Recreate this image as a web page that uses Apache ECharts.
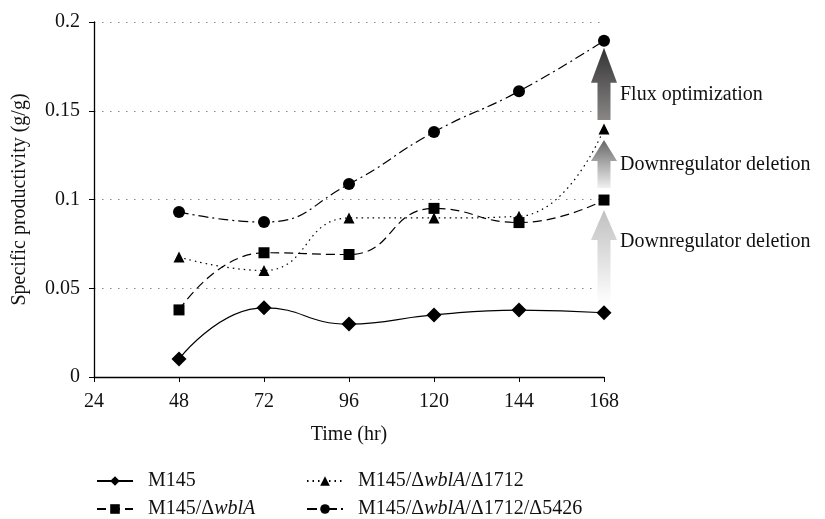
<!DOCTYPE html>
<html>
<head>
<meta charset="utf-8">
<script src="https://cdn.jsdelivr.net/npm/echarts@6/dist/echarts.min.js"></script>
<style>
html, body { margin: 0; padding: 0; background: #fff; }
#chart { width: 825px; height: 519px; }
</style>
</head>
<body>
<div id="chart"></div>
<script>
var hours = [48, 72, 96, 120, 144, 168];
var m145 = [0.0101, 0.0390, 0.0298, 0.0350, 0.0377, 0.0362];
var wblA = [0.0378, 0.0700, 0.0690, 0.0950, 0.0870, 0.0997];
var d1712 = [0.0676, 0.0600, 0.0896, 0.0896, 0.0905, 0.1397];
var d5426 = [0.0930, 0.0873, 0.1087, 0.1380, 0.1610, 0.1895];
var names = ['M145', 'M145/ΔwblA', 'M145/ΔwblA/Δ1712', 'M145/ΔwblA/Δ1712/Δ5426'];
var arrowLabels = ['Downregulator deletion', 'Downregulator deletion', 'Flux optimization'];

var font = 'Liberation Serif';

function pairs(vals) {
	return hours.map(function (h, i) { return [h, vals[i]]; });
}

function makeSeries(name, vals, symbol, size, dash) {
	return {
		name: name,
		type: 'line',
		data: pairs(vals),
		smooth: 0.5,
		symbol: symbol,
		symbolSize: size,
		itemStyle: { color: '#000' },
		lineStyle: { color: '#000', width: 1.2, type: dash },
		emphasis: { disabled: true },
		z: 3
	};
}

var chart = echarts.init(document.getElementById('chart'));

var legendText = {
	fontFamily: font,
	fontSize: 20,
	color: '#111',
	padding: [0, 0, 0, 10],
	rich: { i: { fontFamily: font, fontSize: 20, fontStyle: 'italic', color: '#111' } }
};
function legendFmt(name) { return name.replace('wblA', '{i|wblA}'); }
// one legend per entry, laid out in two columns
function legendAt(name, left, cy) {
	return {
		orient: 'horizontal', left: left, top: cy - 11, padding: 0,
		itemWidth: 36, itemHeight: 12,
		data: [name],
		textStyle: legendText, formatter: legendFmt
	};
}

var option = {
	animation: false,
	backgroundColor: '#fff',
	grid: { left: 94, right: 221, top: 22, bottom: 142 },
	xAxis: {
		type: 'value',
		min: 24, max: 168, interval: 24,
		name: 'Time (hr)',
		nameLocation: 'middle',
		nameGap: 48,
		nameTextStyle: { fontFamily: font, fontSize: 20, color: '#111' },
		axisLine: { lineStyle: { color: '#000', width: 1.3 } },
		axisTick: { length: 5, lineStyle: { color: '#000' } },
		axisLabel: { fontFamily: font, fontSize: 20, color: '#111', margin: 15 },
		splitLine: { show: false }
	},
	yAxis: {
		type: 'value',
		min: 0, max: 0.2, interval: 0.05,
		name: 'Specific productivity (g/g)',
		nameLocation: 'middle',
		nameGap: 64,
		nameTextStyle: { fontFamily: font, fontSize: 20, color: '#111' },
		axisLine: { show: true, lineStyle: { color: '#000', width: 1.3 } },
		axisTick: { show: true, length: 5, lineStyle: { color: '#000' } },
		axisLabel: { fontFamily: font, fontSize: 20, color: '#111', margin: 14 },
		splitLine: { show: true, lineStyle: { color: '#888', width: 1, type: [1.5, 6.5] } }
	},
	legend: [
		legendAt(names[0], 96, 482),
		legendAt(names[1], 96, 510),
		legendAt(names[2], 306, 482),
		legendAt(names[3], 306, 510)
	],
	series: [
		makeSeries(names[0], m145, 'diamond', 15, 'solid'),
		makeSeries(names[1], wblA, 'rect', 11, [9, 5]),
		makeSeries(names[2], d1712, 'triangle', 11, [1.5, 4]),
		makeSeries(names[3], d5426, 'circle', 12, [10, 4, 2, 4])
	]
};
chart.setOption(option);

// gradient arrows between the markers at the last time point
var last = hours.length - 1;
var steps = [
	{ from: m145[last], to: wblA[last], top: '#c0c0c0', bottom: '#ffffff', headLen: 30, gapLow: 8, gapHigh: 10, labelOff: 32 },
	{ from: wblA[last], to: d1712[last], top: '#666666', bottom: '#f0f0f0', headLen: 21, gapLow: 12, gapHigh: 11, labelOff: 25 },
	{ from: d1712[last], to: d5426[last], top: '#333333', bottom: '#8a8686', headLen: 35, gapLow: 9, gapHigh: 7, labelOff: 47 }
];
var graphics = [];
steps.forEach(function (s, k) {
	var p0 = chart.convertToPixel({ gridIndex: 0 }, [hours[last], s.from]);
	var p1 = chart.convertToPixel({ gridIndex: 0 }, [hours[last], s.to]);
	var cx = p0[0];
	var yb = p0[1] - s.gapLow;
	var yt = p1[1] + s.gapHigh;
	var shaft = 6.5, head = 13;
	graphics.push({
		type: 'polygon',
		shape: {
			points: [
				[cx - shaft, yb], [cx - shaft, yt + s.headLen], [cx - head, yt + s.headLen],
				[cx, yt], [cx + head, yt + s.headLen], [cx + shaft, yt + s.headLen], [cx + shaft, yb]
			]
		},
		style: {
			fill: new echarts.graphic.LinearGradient(0, 0, 0, 1, [
				{ offset: 0, color: s.top },
				{ offset: 1, color: s.bottom }
			])
		},
		z: 2
	});
	graphics.push({
		type: 'text',
		x: cx + 16,
		y: yt + s.labelOff,
		style: {
			text: arrowLabels[k],
			font: '20px "' + font + '"',
			fill: '#111',
			verticalAlign: 'middle'
		}
	});
});
chart.setOption({ graphic: graphics });
</script>
</body>
</html>
